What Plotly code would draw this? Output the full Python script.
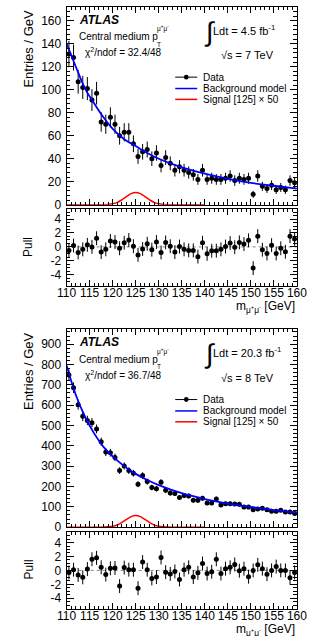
import numpy as np
import plotly.graph_objects as go

# ---------------- data ----------------
bin_centres = np.arange(110.5, 160.0, 1.0)

data_7tev = [131, 128, 107, 102, 101, 91, 97, 72, 70, 76,
             70, 60, 63, 63, 53, 42, 46, 48, 40, 45,
             34, 41, 36, 30, 33, 30, 28, 26, 22, 30,
             22, 23, 22, 22, 23, 25, 21, 23, 22, 23,
             9, 25, 16, 14, 17, 13, 15, 13, 21, 19]
pull_7tev = [-0.5, 0.2, -0.8, -0.35, 0.3, 0.0, 1.25, -0.75, -0.35, 0.85,
             0.7, -0.2, 0.6, 1.0, 0.1, -1.15, -0.3, 0.45, -0.4, 0.7,
             -0.8, 0.65, 0.1, -0.75, 0.05, -0.35, -0.5, -0.5, -1.4, 0.6,
             -1.0, -0.55, -0.55, -0.35, 0.05, 0.55, -0.05, 0.65, 0.4, 0.95,
             -3.05, 1.55, -0.4, -0.95, 0.25, -0.95, -0.2, -0.7, 1.55, 1.15]

data_8tev = [748, 686, 602, 545, 525, 514, 483, 420, 369, 366,
             343, 278, 301, 278, 265, 211, 254, 224, 195, 189,
             221, 181, 168, 166, 146, 155, 153, 132, 132, 142,
             119, 119, 138, 109, 115, 115, 114, 112, 99, 99,
             86, 89, 93, 86, 78, 78, 83, 75, 75, 67]
pull_8tev = [-0.3, 0.1, -0.65, -1.0, 0.2, 1.6, 1.8, 0.45, -0.6, 0.3,
             0.35, -2.25, 0.4, 0.1, 0.1, -2.55, 1.2, 0.1, -1.15, -0.95,
             1.85, -0.25, -0.5, -0.15, -1.3, 0.1, 0.45, -0.95, -0.35, 1.0,
             -0.45, -0.2, 1.6, -0.45, 0.25, 0.45, 0.85, -0.05, 0.25, -0.9,
             0.0, 0.8, 0.25, -0.55, 0.0, 0.55, 0.0, 0.0, -1.05, -0.3]

# background model read at knots
bkg_mass = [110, 112, 114, 116, 118, 120, 122.5, 125, 127.5, 130, 135, 140, 145, 150, 155, 160]
bkg_7tev = [140, 120, 101, 88, 76, 66, 57, 51, 45, 40, 32.5, 27, 22.5, 19, 16.5, 14]
bkg_8tev = [795, 650, 543, 460, 395, 348, 300, 262, 232, 207, 167, 138, 116, 99, 84, 72]

# signal x50 read at 1 GeV steps from 110 to 140
sig_mass = list(range(110, 141))
sig_7tev = [0, 0, 0, 0, 0, 0, 0, 0, 0.05, 0.25, 0.8, 2.0, 4.3, 7.0, 9.6, 10.6,
            9.6, 7.0, 4.3, 2.0, 0.8, 0.25, 0.05, 0, 0, 0, 0, 0, 0, 0, 0]
sig_8tev = [0, 0, 0, 0, 0, 0, 0, 0, 0.3, 1.4, 4.3, 10.8, 22.9, 37.7, 51.6, 57,
            51.6, 37.7, 22.9, 10.8, 4.3, 1.4, 0.3, 0, 0, 0, 0, 0, 0, 0, 0]

x_ticks = [110, 115, 120, 125, 130, 135, 140, 145, 150, 155, 160]
pull_ticks = [-4, -2, 0, 2, 4]
pull_ticktext = ["-4", "-2", "0", "2", "4"]

# ---------------- layout helpers ----------------
W, H = 313, 636
FONT = "Liberation Sans, Arial, Helvetica, sans-serif"


def px(x, y):
    return x / W, 1 - y / H


def ydom(top, bottom):
    return [1 - bottom / H, 1 - top / H]


xdom = [60.5 / W, 306.5 / W]

fig = go.Figure()

panels = [
    dict(data=data_7tev, pull=pull_7tev, bkg=bkg_7tev, sig=sig_7tev, n=1),
    dict(data=data_8tev, pull=pull_8tev, bkg=bkg_8tev, sig=sig_8tev, n=2),
]

for p in panels:
    k = p["n"]
    xm, ym = ("x", "y") if k == 1 else ("x3", "y3")
    xp, yp = ("x2", "y2") if k == 1 else ("x4", "y4")
    err = np.sqrt(np.array(p["data"], dtype=float))
    fig.add_trace(go.Scatter(x=sig_mass, y=p["sig"], mode="lines",
                             line=dict(color="#ff0000", width=1.5, shape="spline"),
                             xaxis=xm, yaxis=ym, showlegend=False))
    fig.add_trace(go.Scatter(x=bin_centres, y=p["data"], mode="markers",
                             marker=dict(color="black", size=5),
                             error_y=dict(type="data", array=err, color="black",
                                          thickness=1, width=0),
                             xaxis=xm, yaxis=ym, showlegend=False))
    fig.add_trace(go.Scatter(x=bkg_mass, y=p["bkg"], mode="lines",
                             line=dict(color="#0000ff", width=1.8, shape="spline"),
                             xaxis=xm, yaxis=ym, showlegend=False))
    fig.add_trace(go.Scatter(x=bin_centres, y=p["pull"], mode="markers",
                             marker=dict(color="black", size=5),
                             error_y=dict(type="constant", value=1, color="black",
                                          thickness=1, width=0),
                             xaxis=xp, yaxis=yp, showlegend=False))
    fig.add_shape(type="line", xref=xp + " domain", yref=yp, x0=0, x1=1, y0=0, y1=0,
                  line=dict(color="#888888", width=1, dash="dot"), layer="below")

common_x = dict(range=[110, 160], ticks="inside", ticklen=6, tickcolor="black",
                showline=True, linecolor="black", linewidth=1, mirror="allticks",
                tickvals=x_ticks, showgrid=False, zeroline=False,
                ticklabeloverflow="allow", ticklabelstandoff=-4,
                minor=dict(ticks="inside", dtick=1, tick0=110, ticklen=3, tickcolor="black"),
                tickfont=dict(family=FONT, size=12, color="black"), domain=xdom)
common_y = dict(ticks="inside", ticklen=7, tickcolor="black", showline=True,
                linecolor="black", linewidth=1, mirror="allticks", showgrid=False,
                zeroline=False, tickfont=dict(family=FONT, size=12, color="black"),
                ticklabelstandoff=2)

fig.update_layout(
    width=W, height=H, margin=dict(l=0, r=0, t=0, b=0),
    paper_bgcolor="white", plot_bgcolor="white", showlegend=False,
    font=dict(family=FONT, size=12, color="black"),
    xaxis=dict(common_x, anchor="y", showticklabels=False),
    yaxis=dict(common_y, anchor="x", domain=ydom(7, 207), range=[0, 172], dtick=20,
               minor=dict(ticks="inside", dtick=4, ticklen=3.5, tickcolor="black")),
    xaxis2=dict(common_x, anchor="y2", matches="x"),
    yaxis2=dict(common_y, anchor="x2", domain=ydom(211, 289), range=[-5.6, 5.5],
                tickvals=pull_ticks, ticktext=pull_ticktext,
                minor=dict(ticks="inside", dtick=0.5, ticklen=3.5, tickcolor="black")),
    xaxis3=dict(common_x, anchor="y3", showticklabels=False),
    yaxis3=dict(common_y, anchor="x3", domain=ydom(333, 533), range=[0, 973], dtick=100,
                minor=dict(ticks="inside", dtick=20, ticklen=3.5, tickcolor="black")),
    xaxis4=dict(common_x, anchor="y4"),
    yaxis4=dict(common_y, anchor="x4", domain=ydom(538, 615.5), range=[-5.5, 5.5],
                tickvals=pull_ticks, ticktext=pull_ticktext,
                minor=dict(ticks="inside", dtick=0.5, ticklen=3.5, tickcolor="black")),
)


def note(text, x, y, size=12, xanchor="left", yanchor="middle", angle=0, color="black"):
    ax, ay = px(x, y)
    fig.add_annotation(text=text, x=ax, y=ay, xref="paper", yref="paper",
                       xanchor=xanchor, yanchor=yanchor, showarrow=False, textangle=angle,
                       borderpad=0, font=dict(family=FONT, size=size, color=color))


labels = [
    dict(off=0, lumi="4.5", rs="7", chi="32.4/48", xt=310.5),
    dict(off=326, lumi="20.3", rs="8", chi="36.7/48", xt=311),
]
for lb in labels:
    o = lb["off"]
    note("<b><i>ATLAS</i></b>", 73, 20 + o, size=12)
    note("Central medium p", 73, 37 + o, size=10)
    note("T", 156, 45 + o, size=6.5)
    note("μ<sup>+</sup>μ<sup>-</sup>", 156, 29 + o, size=6.5)
    note("χ<sup>2</sup>/ndof = " + lb["chi"], 79, 53 + o, size=10)
    note("∫", 206, 32 + o, size=27)
    note("Ldt = " + lb["lumi"] + " fb<sup>-1</sup>", 216, 30 + o, size=11)
    note("√s = " + lb["rs"] + " TeV", 283, 56 + o, size=11, xanchor="right")
    # legend
    rows = [("Data", 78, "black"), ("Background model", 89.5, "#0000ff"),
            ("Signal [125] × 50", 100.5, "#ff0000")]
    for text, yy, col in rows:
        x0, y0 = px(176.5, yy + o)
        x1, _ = px(200, yy + o)
        fig.add_shape(type="line", xref="paper", yref="paper", x0=x0, x1=x1, y0=y0, y1=y0,
                      line=dict(color=col, width=1.5 if col != "black" else 1))
        note(text, 205, yy + o, size=10)
    cx, cy = px(188.3, 78 + o)
    fig.add_shape(type="circle", xref="paper", yref="paper",
                  x0=cx - 2.5 / W, x1=cx + 2.5 / W, y0=cy - 2.5 / H, y1=cy + 2.5 / H,
                  fillcolor="black", line=dict(color="black", width=0))
    # axis titles
    note("Entries / GeV", 20, 9 + o, size=13, angle=-90, xanchor="center", yanchor="top")
    note("Pull", 20, 250 + o, size=12, angle=-90, xanchor="center")
    note("m<sub>μ<sup>+</sup>μ<sup>-</sup></sub> [GeV]", 306, lb["xt"] + o, size=12,
         xanchor="right")

fig.write_html("out.html")
